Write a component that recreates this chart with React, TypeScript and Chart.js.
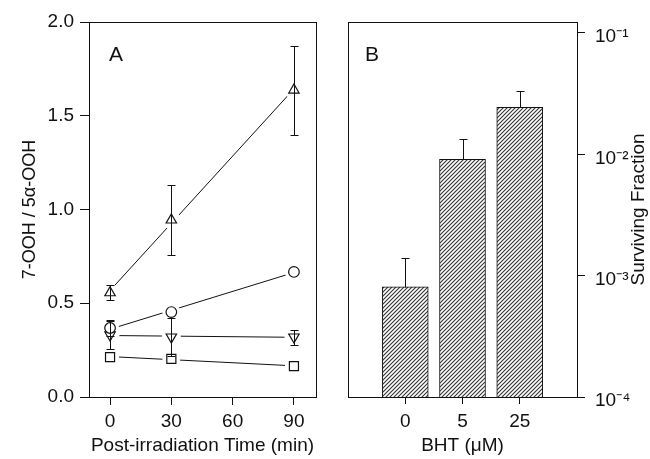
import React, { useEffect, useRef } from 'react';
import { Chart, registerables } from 'chart.js';

Chart.register(...registerables);

// ---------- Panel A data ----------
const TIMES = [0, 30, 90];
const TRI_UP = [0.556, 0.944, 1.637];
const TRI_UP_ERR = [0.04, 0.189, 0.237];
const CIRCLE = [0.368, 0.453, 0.667];
const CIRCLE_ERR = [0.043, 0, 0];
const TRI_DOWN = [0.331, 0.32, 0.32];
const TRI_DOWN_ERR = [0.075, 0.1, 0.04];
const SQUARE = [0.213, 0.203, 0.165];
const SQUARE_ERR = [0, 0, 0];
const X_TICKS_A = [0, 30, 60, 90];
const Y_TICKS_A = [0, 0.5, 1.0, 1.5, 2.0];

// ---------- Panel B data ----------
const BHT = ['0', '5', '25'];
const SURVIVING = [8.1e-4, 9.1e-3, 0.0244];
const SURVIVING_ERR = [6.0e-4, 4.2e-3, 8.8e-3];
const Y_TICKS_B = [1e-4, 1e-3, 1e-2, 1e-1];
const Y_TICK_LABELS_B = ['10\u207B\u2074', '10\u207B\u00B3', '10\u207B\u00B2', '10\u207B\u00B9'];

const FONT = "'Liberation Sans', Arial, sans-serif";
const INK = '#111';

function fitLine(xs: number[], ys: number[]) {
  const n = xs.length;
  const mx = xs.reduce((a, b) => a + b, 0) / n;
  const my = ys.reduce((a, b) => a + b, 0) / n;
  let sxy = 0, sxx = 0;
  for (let i = 0; i < n; i++) {
    sxy += (xs[i] - mx) * (ys[i] - my);
    sxx += (xs[i] - mx) * (xs[i] - mx);
  }
  const b = sxy / sxx;
  const a = my - b * mx;
  return [
    { x: xs[0], y: a + b * xs[0] },
    { x: xs[n - 1], y: a + b * xs[n - 1] },
  ];
}

const pts = (ys: number[]) => TIMES.map((t, i) => ({ x: t, y: ys[i] }));

const frameLabel = (label: string, dx: number) => ({
  id: 'frameLabel' + label,
  afterDraw(chart: any) {
    const { left, top, right, bottom } = chart.chartArea;
    const ctx = chart.ctx;
    ctx.save();
    ctx.strokeStyle = INK;
    ctx.lineWidth = 1;
    ctx.strokeRect(Math.round(left) + 0.5, Math.round(top) + 0.5, Math.round(right - left), Math.round(bottom - top));
    ctx.fillStyle = INK;
    ctx.font = `21px ${FONT}`;
    ctx.textAlign = 'left';
    ctx.textBaseline = 'middle';
    ctx.fillText(label, left + dx, top + 33);
    ctx.restore();
  },
});

const errorBarsA = {
  id: 'errorBarsA',
  afterDatasetsDraw(chart: any) {
    const ctx = chart.ctx;
    const xs = chart.scales.x;
    const ys = chart.scales.y;
    ctx.save();
    ctx.strokeStyle = INK;
    ctx.lineWidth = 1;
    chart.data.datasets.forEach((ds: any) => {
      if (!ds.errors) return;
      ds.data.forEach((p: any, j: number) => {
        const e = ds.errors[j];
        if (!e) return;
        const px = Math.round(xs.getPixelForValue(p.x)) + 0.5;
        const t = Math.round(ys.getPixelForValue(p.y + e)) + 0.5;
        const b = Math.round(ys.getPixelForValue(p.y - e)) + 0.5;
        ctx.beginPath();
        ctx.moveTo(px, t);
        ctx.lineTo(px, b);
        ctx.moveTo(px - 4, t);
        ctx.lineTo(px + 4, t);
        ctx.moveTo(px - 4, b);
        ctx.lineTo(px + 4, b);
        ctx.stroke();
      });
    });
    ctx.restore();
  },
};

const errorBarsB = {
  id: 'errorBarsB',
  afterDatasetsDraw(chart: any) {
    const ctx = chart.ctx;
    const ys = chart.scales.y;
    const meta = chart.getDatasetMeta(0);
    ctx.save();
    ctx.strokeStyle = INK;
    ctx.lineWidth = 1;
    SURVIVING.forEach((v, j) => {
      const el = meta.data[j];
      if (!el) return;
      const px = Math.round(el.x) + 0.5;
      const top = Math.round(ys.getPixelForValue(v + SURVIVING_ERR[j])) + 0.5;
      const base = Math.round(el.y) + 0.5;
      ctx.beginPath();
      ctx.moveTo(px, base);
      ctx.lineTo(px, top);
      ctx.moveTo(px - 4, top);
      ctx.lineTo(px + 4, top);
      ctx.stroke();
    });
    ctx.restore();
  },
};

const rightTitle = {
  id: 'rightTitle',
  afterDraw(chart: any) {
    const ctx = chart.ctx;
    const { top, bottom } = chart.chartArea;
    ctx.save();
    ctx.translate(304, (top + bottom) / 2);
    ctx.rotate(-Math.PI / 2);
    ctx.fillStyle = INK;
    ctx.font = `19px ${FONT}`;
    ctx.textAlign = 'center';
    ctx.textBaseline = 'middle';
    ctx.fillText('Surviving Fraction', 0, 0);
    ctx.restore();
  },
};

function markerSet(data: any[], style: string, radius: number, rotation: number, errors?: number[]) {
  return {
    data,
    showLine: false,
    pointStyle: style,
    pointRotation: rotation,
    pointRadius: radius,
    pointBackgroundColor: '#fff',
    pointBorderColor: INK,
    pointBorderWidth: 1.2,
    errors,
  } as any;
}

function haloSet(data: any[], radius: number) {
  return {
    data,
    showLine: false,
    pointStyle: 'circle',
    pointRadius: radius,
    pointBackgroundColor: '#fff',
    pointBorderColor: '#fff',
    pointBorderWidth: 1,
  } as any;
}

function lineSet(ys: number[]) {
  return {
    data: fitLine(TIMES, ys),
    showLine: true,
    pointRadius: 0,
    borderColor: INK,
    borderWidth: 1,
    fill: false,
  } as any;
}

export default function App() {
  const refA = useRef<HTMLCanvasElement>(null);
  const refB = useRef<HTMLCanvasElement>(null);

  useEffect(() => {
    const tickFont = { family: FONT, size: 19 };
    const titleFont = { family: FONT, size: 19 };
    const yTitleFont = { family: FONT, size: 18 };

    const chartA = new Chart(refA.current as HTMLCanvasElement, {
      type: 'scatter',
      data: {
        datasets: [
          markerSet(pts(TRI_UP), 'triangle', 6, 0, TRI_UP_ERR),
          markerSet(pts(CIRCLE), 'circle', 5.3, 0, CIRCLE_ERR),
          markerSet(pts(TRI_DOWN), 'triangle', 6, 180, TRI_DOWN_ERR),
          markerSet(pts(SQUARE), 'rect', 6.4, 0, SQUARE_ERR),
          haloSet(pts(TRI_UP), 9),
          haloSet(pts(CIRCLE), 8.5),
          haloSet(pts(TRI_DOWN), 9),
          haloSet(pts(SQUARE), 8.5),
          lineSet(TRI_UP),
          lineSet(CIRCLE),
          lineSet(TRI_DOWN),
          lineSet(SQUARE),
        ],
      },
      options: {
        responsive: false,
        animation: false,
        events: [],
        layout: { padding: { top: 22, right: 19, left: 0, bottom: 0 } },
        plugins: { legend: { display: false }, tooltip: { enabled: false } },
        scales: {
          x: {
            type: 'linear',
            min: -10.3,
            max: 100.8,
            afterBuildTicks: (s: any) => {
              s.ticks = X_TICKS_A.map((v) => ({ value: v }));
            },
            afterFit: (s: any) => {
              s.height = 62;
            },
            grid: { drawOnChartArea: false, drawTicks: true, tickLength: 8, color: INK },
            border: { color: INK, width: 1 },
            ticks: { color: INK, font: tickFont, padding: 5, maxRotation: 0, callback: (v: any) => String(v) },
            title: {
              display: true,
              text: 'Post-irradiation Time (min)',
              color: INK,
              font: titleFont,
              padding: { top: 0, bottom: 2 },
            },
          },
          y: {
            type: 'linear',
            min: 0,
            max: 2,
            afterBuildTicks: (s: any) => {
              s.ticks = Y_TICKS_A.map((v) => ({ value: v }));
            },
            afterFit: (s: any) => {
              s.width = 89;
            },
            grid: { drawOnChartArea: false, drawTicks: true, tickLength: 9, color: INK },
            border: { color: INK, width: 1 },
            ticks: { color: INK, font: tickFont, padding: 6, callback: (v: any) => Number(v).toFixed(1) },
            title: {
              display: true,
              text: '7-OOH / 5\u03B1-OOH',
              color: INK,
              font: yTitleFont,
              padding: { top: 19, bottom: 0 },
            },
          },
        },
      },
      plugins: [errorBarsA, frameLabel('A', 20)],
    } as any);

    const cB = refB.current as HTMLCanvasElement;
    const tile = document.createElement('canvas');
    tile.width = 4;
    tile.height = 4;
    const g = tile.getContext('2d') as CanvasRenderingContext2D;
    g.fillStyle = '#fff';
    g.fillRect(0, 0, 4, 4);
    g.strokeStyle = '#333';
    g.lineWidth = 1.1;
    g.beginPath();
    g.moveTo(0, 4);
    g.lineTo(4, 0);
    g.moveTo(-1, 1);
    g.lineTo(1, -1);
    g.moveTo(3, 5);
    g.lineTo(5, 3);
    g.stroke();
    const hatch = (cB.getContext('2d') as CanvasRenderingContext2D).createPattern(tile, 'repeat');

    const chartB = new Chart(cB, {
      type: 'bar',
      data: {
        datasets: [
          {
            data: BHT.map((_, i) => ({ x: i, y: SURVIVING[i] })),
            backgroundColor: hatch,
            borderColor: INK,
            borderWidth: 1,
            barThickness: 46,
          } as any,
        ],
      },
      options: {
        responsive: false,
        animation: false,
        events: [],
        layout: { padding: { top: 22, right: 0, left: 13, bottom: 0 } },
        plugins: { legend: { display: false }, tooltip: { enabled: false } },
        scales: {
          x: {
            type: 'linear',
            min: -1,
            max: 3,
            offset: false,
            afterBuildTicks: (s: any) => {
              s.ticks = BHT.map((_, i) => ({ value: i }));
            },
            afterFit: (s: any) => {
              s.height = 62;
            },
            grid: { drawOnChartArea: false, drawTicks: true, tickLength: 7, color: INK, offset: false },
            border: { color: INK, width: 1 },
            ticks: { color: INK, font: tickFont, padding: 6, maxRotation: 0, callback: (v: any) => BHT[Math.round(v)] ?? '' },
            title: {
              display: true,
              text: 'BHT (\u03BCM)',
              color: INK,
              font: titleFont,
              padding: { top: 0, bottom: 2 },
            },
          },
          y: {
            type: 'logarithmic',
            position: 'right',
            min: 1e-4,
            max: 0.123,
            afterBuildTicks: (s: any) => {
              s.ticks = Y_TICKS_B.map((v) => ({ value: v }));
            },
            afterFit: (s: any) => {
              s.width = 73;
            },
            grid: { drawOnChartArea: false, drawTicks: true, tickLength: 8, color: INK },
            border: { color: INK, width: 1 },
            ticks: {
              color: INK,
              font: tickFont,
              padding: 10,
              labelOffset: 4,
              callback: (v: any) => {
                const idx = Y_TICKS_B.findIndex((t) => Math.abs(Math.log10(t) - Math.log10(v)) < 1e-6);
                return idx >= 0 ? Y_TICK_LABELS_B[idx] : '';
              },
            },
          },
        },
      },
      plugins: [errorBarsB, frameLabel('B', 17), rightTitle],
    } as any);

    return () => {
      chartA.destroy();
      chartB.destroy();
    };
  }, []);

  return (
    <div style={{ position: 'absolute', left: 0, top: 0, width: 650, height: 459, background: '#fff', overflow: 'hidden' }}>
      <canvas ref={refA} width={335} height={459} style={{ position: 'absolute', left: 0, top: 0, width: 335, height: 459 }} />
      <canvas ref={refB} width={315} height={459} style={{ position: 'absolute', left: 335, top: 0, width: 315, height: 459 }} />
    </div>
  );
}
